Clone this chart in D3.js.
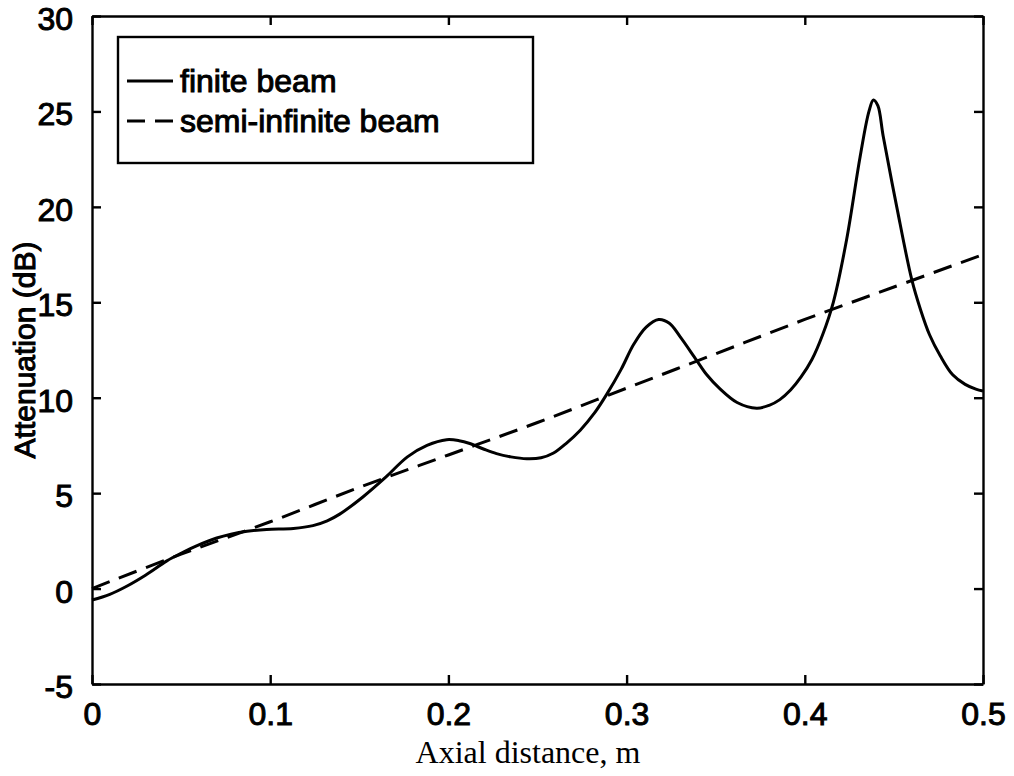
<!DOCTYPE html>
<html>
<head>
<meta charset="utf-8">
<script src="https://cdn.jsdelivr.net/npm/d3@7"></script>
<style>
  html, body { margin: 0; padding: 0; background: #fff; }
</style>
</head>
<body>
<svg id="chart" width="1014" height="776"></svg>
<script>
// Axial distance (m) and attenuation (dB) for the finite beam
const finiteX = [0.000, 0.010, 0.020, 0.030, 0.042, 0.050, 0.059, 0.070, 0.078, 0.087,
  0.098, 0.113, 0.124, 0.132, 0.139, 0.152, 0.165, 0.177, 0.188, 0.199,
  0.206, 0.212, 0.220, 0.227, 0.235, 0.244, 0.252, 0.259, 0.266, 0.274,
  0.282, 0.289, 0.297, 0.304, 0.311, 0.318, 0.324, 0.330, 0.339, 0.345,
  0.352, 0.362, 0.373, 0.380, 0.386, 0.392, 0.398, 0.404, 0.410, 0.416,
  0.4235, 0.431, 0.436, 0.4385, 0.441, 0.444, 0.4516, 0.460, 0.465, 0.470,
  0.476, 0.483, 0.490, 0.496, 0.500];
const finiteY = [-0.6, -0.3, 0.15, 0.7, 1.45, 1.85, 2.25, 2.65, 2.85, 3.0,
  3.1, 3.15, 3.3, 3.55, 3.9, 4.8, 5.85, 6.9, 7.5, 7.8,
  7.75, 7.6, 7.3, 7.07, 6.9, 6.8, 6.85, 7.1, 7.6, 8.3,
  9.2, 10.2, 11.5, 12.8, 13.7, 14.1, 13.9, 13.2, 12.0, 11.2,
  10.5, 9.75, 9.45, 9.6, 9.9, 10.4, 11.1, 12.0, 13.3, 15.0,
  18.3, 22.6, 25.0, 25.6, 25.3, 23.7, 20.0, 16.2, 14.6, 13.3,
  12.2, 11.2, 10.7, 10.45, 10.35];

// Semi-infinite beam
const semiX = [0, 0.05, 0.1, 0.15, 0.2, 0.25, 0.3, 0.35, 0.4, 0.45, 0.5];
const semiY = [0.0, 1.8, 3.5, 5.3, 7.0, 8.7, 10.5, 12.3, 14.1, 15.8, 17.5];

const xTicks = [0, 0.1, 0.2, 0.3, 0.4, 0.5];
const yTicks = [-5, 0, 5, 10, 15, 20, 25, 30];
const legendLabels = ["finite beam", "semi-infinite beam"];

const sans = "'Liberation Sans', Arial, Helvetica, sans-serif";
const serif = "'Liberation Serif', 'Times New Roman', Times, serif";

const svg = d3.select("#chart");
const L = 92, R = 983, T = 16, B = 684;

const x = d3.scaleLinear().domain([0, 0.5]).range([L, R]);
const y = d3.scaleLinear().domain([-5, 30]).range([B, T]);

const tickLen = 9;
const axisW = 2.4;

// Axes on all four sides, ticks pointing inward
const fmtX = d => d === 0 ? "0" : d3.format(".1f")(d);
const fmtY = d => String(d);
const axBottom = svg.append("g").attr("transform", `translate(0,${B})`)
  .call(d3.axisBottom(x).tickValues(xTicks).tickSizeInner(-tickLen).tickSizeOuter(0).tickPadding(18).tickFormat(fmtX));
const axTop = svg.append("g").attr("transform", `translate(0,${T})`)
  .call(d3.axisTop(x).tickValues(xTicks).tickSizeInner(-tickLen).tickSizeOuter(0).tickFormat(""));
const axLeft = svg.append("g").attr("transform", `translate(${L},0)`)
  .call(d3.axisLeft(y).tickValues(yTicks).tickSizeInner(-tickLen).tickSizeOuter(0).tickPadding(19).tickFormat(fmtY));
const axRight = svg.append("g").attr("transform", `translate(${R},0)`)
  .call(d3.axisRight(y).tickValues(yTicks).tickSizeInner(-tickLen).tickSizeOuter(0).tickFormat(""));

[axBottom, axTop, axLeft, axRight].forEach(g => {
  g.attr("font-family", null).attr("font-size", null);
  g.select(".domain").attr("stroke", "#000").attr("stroke-width", axisW);
  g.selectAll(".tick line").attr("stroke", "#000").attr("stroke-width", axisW);
  g.selectAll("text")
    .style("font-family", sans)
    .style("font-size", "32px")
    .attr("fill", "#000")
    .attr("stroke", "#000").attr("stroke-width", 1);
});
axBottom.selectAll(".tick text").attr("dy", "0.71em");
axLeft.selectAll(".tick text").attr("dy", "0.42em");

// Curves
const lineGen = d3.line().x(d => x(d[0])).y(d => y(d[1])).curve(d3.curveCatmullRom.alpha(0.5));
const finite = finiteX.map((v, i) => [v, finiteY[i]]);
const semi = semiX.map((v, i) => [v, semiY[i]]);

svg.append("path").datum(semi)
  .attr("d", lineGen).attr("fill", "none").attr("stroke", "#000")
  .attr("stroke-width", 3).attr("stroke-dasharray", "19,10");
svg.append("path").datum(finite)
  .attr("d", lineGen).attr("fill", "none").attr("stroke", "#000")
  .attr("stroke-width", 3).attr("stroke-linejoin", "round");

// Legend
const lg = svg.append("g");
lg.append("rect").attr("x", 118).attr("y", 37).attr("width", 415).attr("height", 126)
  .attr("fill", "#fff").attr("stroke", "#000").attr("stroke-width", axisW);
const rows = [{y: 81, dash: null}, {y: 121, dash: "18,10"}];
rows.forEach((r, i) => {
  lg.append("line").attr("x1", 127).attr("x2", 173).attr("y1", r.y).attr("y2", r.y)
    .attr("stroke", "#000").attr("stroke-width", 3)
    .attr("stroke-dasharray", r.dash);
  lg.append("text").attr("x", 180).attr("y", r.y + 11)
    .style("font-family", sans).style("font-size", "32px")
    .attr("fill", "#000").attr("stroke", "#000").attr("stroke-width", 1)
    .text(legendLabels[i]);
});

// Axis titles
svg.append("text")
  .attr("x", 528).attr("y", 763).attr("text-anchor", "middle")
  .style("font-family", serif).style("font-size", "32px")
  .attr("fill", "#000")
  .text("Axial distance, m");

svg.append("text")
  .attr("transform", "translate(35,350) rotate(-90)")
  .attr("text-anchor", "middle")
  .style("font-family", sans).style("font-size", "30px")
  .attr("fill", "#000").attr("stroke", "#000").attr("stroke-width", 1)
  .text("Attenuation (dB)");
</script>
</body>
</html>
